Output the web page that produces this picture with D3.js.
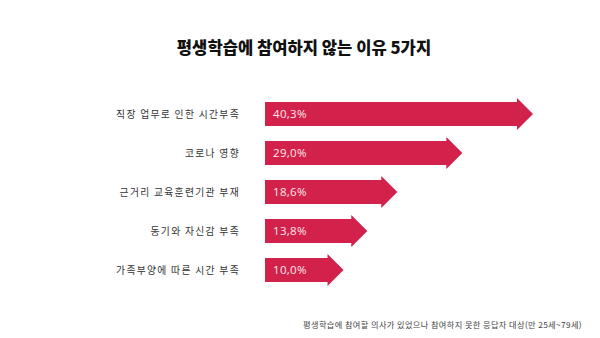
<!DOCTYPE html>
<html>
<head>
<meta charset="utf-8">
<script src="https://cdn.jsdelivr.net/npm/d3@7"></script>
<style>
  html, body { margin: 0; padding: 0; background: #fff; }
  svg { display: block; }
</style>
</head>
<body>
<svg id="chart" width="600" height="338"></svg>
<script>
// Reasons for not taking part in lifelong learning (%)
const categories = [
  "직장 업무로 인한 시간부족",
  "코로나 영향",
  "근거리 교육훈련기관 부재",
  "동기와 자신감 부족",
  "가족부양에 따른 시간 부족"
];
const values = [40.3, 29.0, 18.6, 13.8, 10.0];
const valueLabels = ["40,3%", "29,0%", "18,6%", "13,8%", "10,0%"];
const title = "평생학습에 참여하지 않는 이유 5가지";
const note = "평생학습에 참여할 의사가 있었으나 참여하지 못한 응답자 대상(만 25세~79세)";

const W = 600, H = 338;
const barColor = "#d2214b";
const font = "'Noto Sans CJK KR', 'Noto Sans', sans-serif";

const svg = d3.select("#chart");
svg.append("rect").attr("width", W).attr("height", H).attr("fill", "#fff");

const headLen = 16, bodyH = 24, headH = 32;
const x0 = 265;

const x = d3.scaleLinear().domain([0, 40.3]).range([x0, 517]);
const y = d3.scalePoint().domain(categories).range([114, 270]);

// Title
svg.append("text")
  .attr("x", 304).attr("y", 54)
  .attr("text-anchor", "middle")
  .attr("font-family", font)
  .attr("font-weight", 900)
  .attr("font-size", 16.6)
  .attr("fill", "#111")
  .text(title);

const rows = svg.append("g").selectAll("g")
  .data(categories.map((c, i) => ({ c, v: values[i], lbl: valueLabels[i] })))
  .join("g")
  .attr("transform", d => `translate(0,${y(d.c)})`);

// Arrow shaped bars: body ends at the value, head extends beyond
rows.append("path")
  .attr("fill", barColor)
  .attr("d", d => {
    const xe = x(d.v);
    return `M${x0},${-bodyH / 2} L${xe},${-bodyH / 2} L${xe},${-headH / 2} L${xe + headLen},0 ` +
           `L${xe},${headH / 2} L${xe},${bodyH / 2} L${x0},${bodyH / 2} Z`;
  });

rows.append("text")
  .attr("x", x0 + 8).attr("y", 0)
  .attr("dy", "0.36em")
  .attr("font-family", "'Open Sans', 'Liberation Sans', sans-serif")
  .attr("font-size", 11.5)
  .attr("fill", "#fbe9ee")
  .attr("letter-spacing", 0.3)
  .text(d => d.lbl);

rows.append("text")
  .attr("x", 240).attr("y", 0)
  .attr("dy", "0.36em")
  .attr("text-anchor", "end")
  .attr("font-family", font)
  .attr("font-size", 9.8)
  .attr("letter-spacing", 1.3)
  .attr("fill", "#333")
  .text(d => d.c);

// Footnote
svg.append("text")
  .attr("x", 582).attr("y", 328)
  .attr("text-anchor", "end")
  .attr("font-family", font)
  .attr("font-size", 8.2)
  .attr("letter-spacing", 0.4)
  .attr("fill", "#444")
  .text(note);
</script>
</body>
</html>
